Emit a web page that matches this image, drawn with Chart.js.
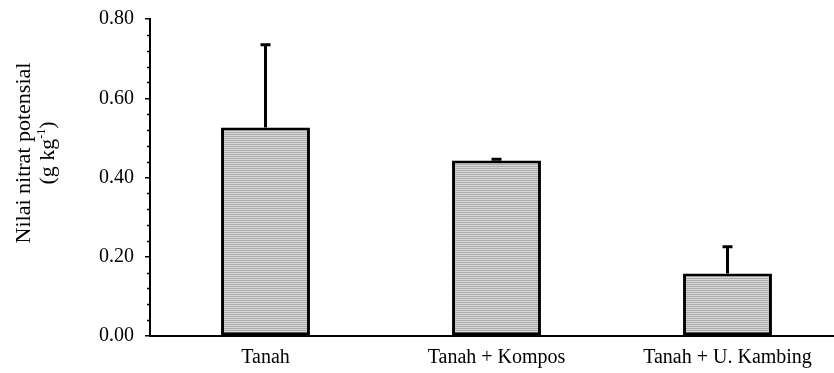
<!DOCTYPE html>
<html>
<head>
<meta charset="utf-8">
<script src="https://cdn.jsdelivr.net/npm/chart.js@4/dist/chart.umd.min.js"></script>
<style>
  html, body { margin: 0; padding: 0; background: #fff; overflow: hidden; }
  #wrap { width: 850px; height: 377px; margin-top: -4px; }
</style>
</head>
<body>
<div id="wrap"><canvas id="myChart" width="850" height="377"></canvas></div>
<script>
const categories = ['Tanah', 'Tanah + Kompos', 'Tanah + U. Kambing'];
const nitrat = [0.526, 0.443, 0.158];
const galat = [0.209, 0.003, 0.067];
const yTicks = [0, 0.2, 0.4, 0.6, 0.8];
const yMinorStep = 0.04;
const yTitle = ['Nilai nitrat potensial', '(g kg', '-1', ')'];

const serif = "'Liberation Serif', 'Times New Roman', serif";

// arsiran horizontal abu-abu untuk isi batang
function hatch() {
  const c = document.createElement('canvas');
  c.width = 4; c.height = 2;
  const g = c.getContext('2d');
  g.fillStyle = '#d8d8d8'; g.fillRect(0, 0, 4, 2);
  g.fillStyle = '#acacac'; g.fillRect(0, 0, 4, 1);
  return g.createPattern(c, 'repeat');
}

// garis galat (hanya ke atas)
const errorBars = {
  id: 'errorBars',
  afterDatasetsDraw(chart) {
    const { ctx, scales: { y } } = chart;
    const meta = chart.getDatasetMeta(0);
    ctx.save();
    ctx.strokeStyle = '#000';
    ctx.lineWidth = 3;
    meta.data.forEach((bar, i) => {
      const top = y.getPixelForValue(nitrat[i] + galat[i]);
      ctx.beginPath();
      ctx.moveTo(bar.x, bar.y);
      ctx.lineTo(bar.x, top);
      ctx.moveTo(bar.x - 5, top);
      ctx.lineTo(bar.x + 5, top);
      ctx.stroke();
    });
    ctx.restore();
  }
};

// tick minor di sumbu Y + judul sumbu Y
const yExtras = {
  id: 'yExtras',
  afterDraw(chart) {
    const { ctx, scales: { y } } = chart;
    const x0 = y.right;
    ctx.save();
    ctx.strokeStyle = '#000';
    ctx.lineWidth = 1.5;
    for (let v = 0; v <= 0.8 + 1e-9; v += yMinorStep) {
      const isMajor = yTicks.some(t => Math.abs(t - v) < 1e-6);
      if (isMajor) continue;
      const py = Math.round(y.getPixelForValue(v)) + 0.5;
      ctx.beginPath();
      ctx.moveTo(x0 - 3, py);
      ctx.lineTo(x0, py);
      ctx.stroke();
    }

    // judul berputar dua baris
    const cy = 157;
    ctx.translate(24, cy);
    ctx.rotate(-Math.PI / 2);
    ctx.fillStyle = '#000';
    ctx.textBaseline = 'middle';
    ctx.textAlign = 'center';
    const big = '22px ' + serif, small = '12px ' + serif;
    ctx.font = big;
    ctx.fillText(yTitle[0], 0, 0);

    const w1 = ctx.measureText(yTitle[1]).width;
    const w3 = ctx.measureText(yTitle[3]).width;
    ctx.font = small;
    const w2 = ctx.measureText(yTitle[2]).width;
    let x = -(w1 + w2 + w3) / 2;
    const ly = 24;
    ctx.textAlign = 'left';
    ctx.font = big;
    ctx.fillText(yTitle[1], x, ly);
    x += w1;
    ctx.font = small;
    ctx.fillText(yTitle[2], x, ly - 6);
    x += w2;
    ctx.font = big;
    ctx.fillText(yTitle[3], x, ly);
    ctx.restore();
  }
};

const ctx = document.getElementById('myChart').getContext('2d');
const chart = new Chart(ctx, {
  type: 'bar',
  data: {
    labels: categories,
    datasets: [{
      data: nitrat,
      backgroundColor: hatch(),
      borderColor: '#000',
      borderWidth: 3,
      borderSkipped: false,
      barPercentage: 0.385,
      categoryPercentage: 1
    }]
  },
  options: {
    responsive: false,
    animation: false,
    layout: { padding: { top: 15, right: 7, bottom: 0 } },
    plugins: { legend: { display: false }, tooltip: { enabled: false } },
    scales: {
      x: {
        afterFit: s => { s.height = 37; },
        grid: { display: false, drawTicks: false },
        border: { color: '#000', width: 2 },
        ticks: { color: '#000', font: { family: serif, size: 20 }, padding: 10 }
      },
      y: {
        min: 0,
        max: 0.8,
        afterBuildTicks: s => { s.ticks = yTicks.map(v => ({ value: v })); },
        afterFit: s => { s.width = 150; },
        grid: { drawOnChartArea: false, tickLength: 5, color: '#000', lineWidth: 1.5 },
        border: { color: '#000', width: 2 },
        ticks: { color: '#000', font: { family: serif, size: 20 }, padding: 11, callback: v => Number(v).toFixed(2) }
      }
    }
  },
  plugins: [errorBars, yExtras]
});
</script>
</body>
</html>
